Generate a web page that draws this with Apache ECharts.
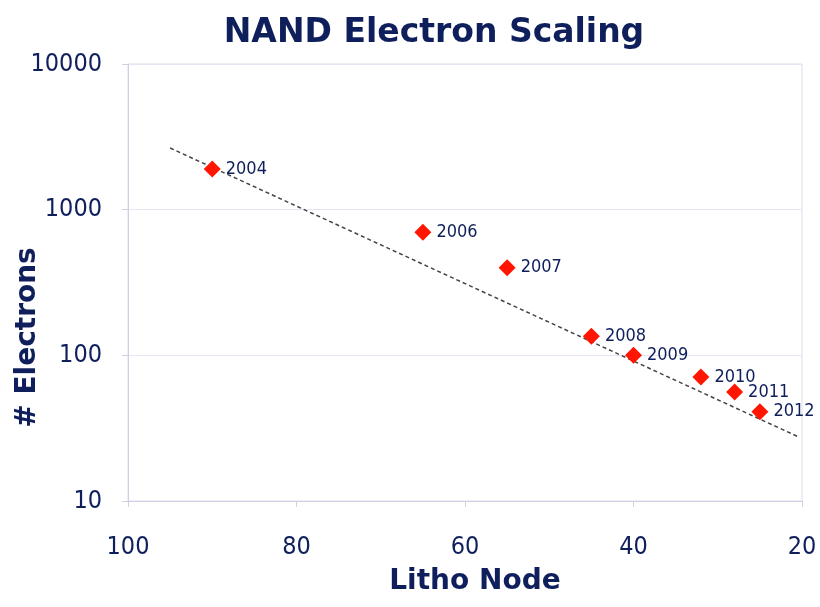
<!DOCTYPE html>
<html><head><meta charset="utf-8">
<script src="https://cdn.jsdelivr.net/npm/echarts@6/dist/echarts.min.js"></script>
<style>html,body{margin:0;padding:0;background:#fff}#c{width:820px;height:607px}</style>
</head><body><div id="c"></div>
<script>
const years = ['2004','2006','2007','2008','2009','2010','2011','2012'];
const nodes = [90, 65, 55, 45, 40, 32, 28, 25];
const electrons = [1900, 700, 400, 135, 100, 71, 56, 41];
const trendX = [95, 20.5];
const trendY = [2650, 27.7];
const xTicks = [20, 100];

const navy = '#0f1f5c';
const font = '"Liberation Sans Narrow", "DejaVu Sans Condensed", "Liberation Sans", sans-serif';
const chart = echarts.init(document.getElementById('c'));
chart.setOption({
  backgroundColor: '#fff',
  animation: false,
  title: {
    text: 'NAND Electron Scaling', left: 429, top: 12, textAlign: 'center',
    textStyle: {fontFamily: '"DejaVu Sans", sans-serif', fontWeight: 'bold', fontSize: 33, color: navy}
  },
  grid: {left: 128, right: 18, top: 64, bottom: 106, show: true, borderColor: '#dcdcea', borderWidth: 1,
    outerBoundsMode: 'none', containLabel: false},
  xAxis: {
    type: 'value', inverse: true, min: xTicks[0], max: xTicks[1], interval: 20,
    name: 'Litho Node', nameLocation: 'middle', nameGap: 67,
    nameTextStyle: {fontFamily: '"DejaVu Sans", sans-serif', fontWeight: 'bold', fontSize: 28, color: navy, padding: [0, 0, 0, 20]},
    axisLine: {lineStyle: {color: '#d0d0e0'}},
    axisTick: {show: true, length: 6, lineStyle: {color: '#d0d0e0'}},
    axisLabel: {fontFamily: font, fontSize: 25, color: navy, margin: 34},
    splitLine: {show: false}
  },
  yAxis: {
    type: 'log', logBase: 10, min: 10, max: 10000,
    name: '# Electrons', nameLocation: 'middle', nameGap: 86, nameRotate: 90, nameMoveOverlap: false,
    nameTextStyle: {fontFamily: '"DejaVu Sans", sans-serif', fontWeight: 'bold', fontSize: 28, color: navy, padding: [0, 110, 0, 0]},
    axisLine: {show: true, lineStyle: {color: '#d0d0e0'}},
    axisTick: {show: true, length: 6, lineStyle: {color: '#d0d0e0'}},
    axisLabel: {fontFamily: font, fontSize: 25, color: navy, margin: 26, formatter: v => String(Math.round(v))},
    splitLine: {show: true, lineStyle: {color: '#e6e6f2'}},
    minorTick: {show: false}
  },
  series: [
    {
      type: 'line', data: trendX.map((x, i) => [x, trendY[i]]), symbol: 'none',
      lineStyle: {color: '#444', width: 1.5, type: [4, 3]}, z: 2
    },
    {
      type: 'scatter', data: nodes.map((x, i) => [x, electrons[i], years[i]]),
      symbol: 'diamond', symbolSize: 17, itemStyle: {color: '#ff1500', opacity: 1}, z: 3,
      label: {show: true, position: 'right', distance: 5, formatter: p => p.data[2],
        fontFamily: font, fontSize: 18, color: navy}
    }
  ]
});
</script></body></html>
